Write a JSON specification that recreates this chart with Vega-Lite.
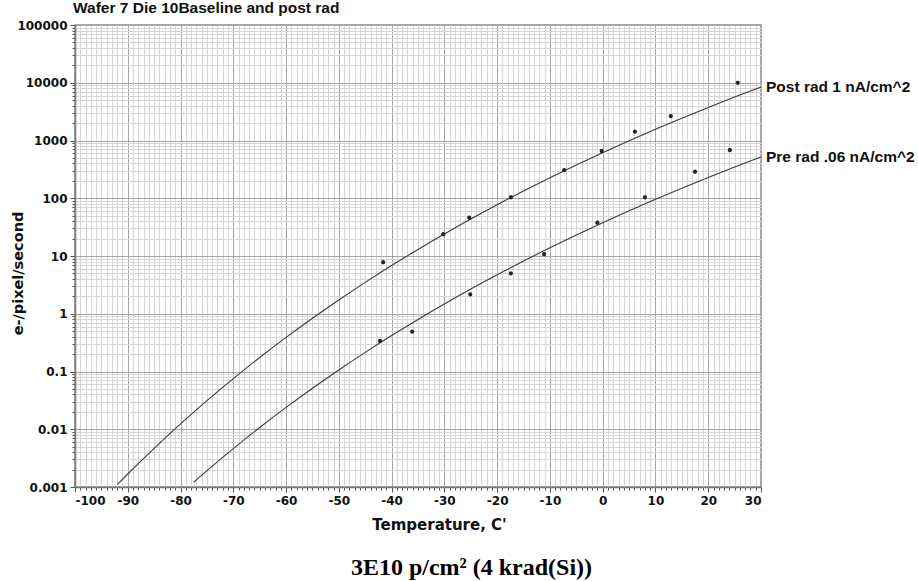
{
  "$schema": "https://vega.github.io/schema/vega-lite/v6.json",
  "width": 686,
  "height": 462,
  "autosize": {"type": "none"},
  "padding": {"left": 75, "top": 25, "right": 157, "bottom": 94},
  "background": "white",
  "config": {"view": {"stroke": "#8a8a8a", "strokeWidth": 1.5}, "font": "DejaVu Sans"},
  "title": {"text": "Wafer 7 Die 10Baseline and post rad", "anchor": "start", "frame": "group", "font": "Liberation Sans", "fontSize": 15.5, "fontWeight": "bold", "color": "#111", "offset": 3, "dx": -2},
  "datasets": {
    "curves": [
      {"series": "post", "T": -92, "v": 0.0011},
      {"series": "post", "T": -90, "v": 0.00168},
      {"series": "post", "T": -85, "v": 0.00468},
      {"series": "post", "T": -80, "v": 0.0124},
      {"series": "post", "T": -75, "v": 0.0313},
      {"series": "post", "T": -70, "v": 0.0754},
      {"series": "post", "T": -65, "v": 0.1745},
      {"series": "post", "T": -60, "v": 0.389},
      {"series": "post", "T": -55, "v": 0.835},
      {"series": "post", "T": -50, "v": 1.735},
      {"series": "post", "T": -45, "v": 3.49},
      {"series": "post", "T": -40, "v": 6.83},
      {"series": "post", "T": -35, "v": 13.0},
      {"series": "post", "T": -30, "v": 24.1},
      {"series": "post", "T": -25, "v": 43.6},
      {"series": "post", "T": -20, "v": 77.2},
      {"series": "post", "T": -15, "v": 133.6},
      {"series": "post", "T": -10, "v": 226.6},
      {"series": "post", "T": -5, "v": 377},
      {"series": "post", "T": 0, "v": 616},
      {"series": "post", "T": 5, "v": 990},
      {"series": "post", "T": 10, "v": 1565},
      {"series": "post", "T": 15, "v": 2436},
      {"series": "post", "T": 20, "v": 3736},
      {"series": "post", "T": 25, "v": 5650},
      {"series": "post", "T": 30, "v": 8440},
      {"series": "pre", "T": -77.5, "v": 0.00121},
      {"series": "pre", "T": -75, "v": 0.00192},
      {"series": "pre", "T": -70, "v": 0.00463},
      {"series": "pre", "T": -65, "v": 0.01071},
      {"series": "pre", "T": -60, "v": 0.02387},
      {"series": "pre", "T": -55, "v": 0.0513},
      {"series": "pre", "T": -50, "v": 0.1065},
      {"series": "pre", "T": -45, "v": 0.2145},
      {"series": "pre", "T": -40, "v": 0.4195},
      {"series": "pre", "T": -35, "v": 0.798},
      {"series": "pre", "T": -30, "v": 1.479},
      {"series": "pre", "T": -25, "v": 2.68},
      {"series": "pre", "T": -20, "v": 4.74},
      {"series": "pre", "T": -15, "v": 8.2},
      {"series": "pre", "T": -10, "v": 13.91},
      {"series": "pre", "T": -5, "v": 23.1},
      {"series": "pre", "T": 0, "v": 37.8},
      {"series": "pre", "T": 5, "v": 60.7},
      {"series": "pre", "T": 10, "v": 96.0},
      {"series": "pre", "T": 15, "v": 149.5},
      {"series": "pre", "T": 20, "v": 229},
      {"series": "pre", "T": 25, "v": 347},
      {"series": "pre", "T": 30, "v": 518}
    ],
    "points": [
      {"series": "post", "T": 25.6, "v": 10000},
      {"series": "post", "T": 12.9, "v": 2650},
      {"series": "post", "T": 6.1, "v": 1420},
      {"series": "post", "T": -0.2, "v": 658},
      {"series": "post", "T": -7.3, "v": 308},
      {"series": "post", "T": -17.4, "v": 104},
      {"series": "post", "T": -25.3, "v": 46},
      {"series": "post", "T": -30.2, "v": 24},
      {"series": "post", "T": -41.6, "v": 7.8},
      {"series": "pre", "T": 24.1, "v": 684},
      {"series": "pre", "T": 17.5, "v": 288},
      {"series": "pre", "T": 8.0, "v": 104},
      {"series": "pre", "T": -1.0, "v": 37.8},
      {"series": "pre", "T": -11.1, "v": 10.8},
      {"series": "pre", "T": -17.4, "v": 5.0},
      {"series": "pre", "T": -25.1, "v": 2.17},
      {"series": "pre", "T": -36.1, "v": 0.49},
      {"series": "pre", "T": -42.2, "v": 0.34}
    ],
    "labels": [
      {"label": "Post rad 1 nA/cm^2", "T": 30, "v": 8440},
      {"label": "Pre rad .06 nA/cm^2", "T": 30, "v": 518}
    ]
  },
  "layer": [
    {
      "data": {"name": "curves"},
      "mark": {"type": "line", "color": "#3a3a3a", "strokeWidth": 1.1, "interpolate": "monotone"},
      "encoding": {
        "x": {"field": "T", "type": "quantitative",
          "scale": {"domain": [-100, 30], "nice": false, "zero": false},
          "axis": {"orient": "bottom", "tickCount": 130, "grid": true, "gridColor": "#d6d6d6", "gridWidth": 1, "labels": false, "domain": false, "ticks": true, "tickSize": 3, "tickColor": "#555",
            "title": "3E10 p/cm² (4 krad(Si))", "titleFont": "Liberation Serif", "titleFontSize": 24, "titleFontWeight": "bold", "titleColor": "#000", "titleX": 396, "titleY": 87, "titleBaseline": "alphabetic", "titleAlign": "center"}},
        "y": {"field": "v", "type": "quantitative",
          "scale": {"type": "log", "domain": [0.001, 100000], "nice": false},
          "axis": {"orient": "left", "values": [0.002,0.003,0.004,0.005,0.006,0.007,0.008,0.009,0.02,0.03,0.04,0.05,0.06,0.07,0.08,0.09,0.2,0.3,0.4,0.5,0.6,0.7,0.8,0.9,2,3,4,5,6,7,8,9,20,30,40,50,60,70,80,90,200,300,400,500,600,700,800,900,2000,3000,4000,5000,6000,7000,8000,9000,20000,30000,40000,50000,60000,70000,80000,90000],
            "grid": true, "gridColor": "#d6d6d6", "labels": false, "domain": false, "tickSize": 3, "tickColor": "#555", "title": null}},
        "detail": {"field": "series"}
      }
    },
    {
      "data": {"name": "points"},
      "mark": {"type": "point", "shape": "M-1,0L1,0M0,-1L0,1M-0.7,-0.7L0.7,0.7M-0.7,0.7L0.7,-0.7", "size": 18, "filled": false, "strokeWidth": 1.2, "color": "#222", "opacity": 1},
      "encoding": {
        "x": {"field": "T", "type": "quantitative",
          "axis": {"orient": "bottom", "values": [-100,-90,-80,-70,-60,-50,-40,-30,-20,-10,0,10,20,30], "labelExpr": "'' + datum.value", "grid": true, "gridColor": "#a6a6a6", "domain": true, "domainColor": "#777", "domainWidth": 1.5, "tickSize": 5, "tickColor": "#555",
            "labelFont": "DejaVu Sans", "labelFontSize": 12, "labelFontWeight": "bold", "labelColor": "#111", "labelPadding": 3,
            "title": "Temperature, C'", "titleFont": "DejaVu Sans", "titleFontSize": 15, "titleFontWeight": "bold", "titleColor": "#111", "titleX": 364, "titleY": 42, "titleBaseline": "alphabetic", "titleAlign": "center"}},
        "y": {"field": "v", "type": "quantitative",
          "axis": {"orient": "left", "values": [0.001, 0.01, 0.1, 1, 10, 100, 1000, 10000, 100000], "labelExpr": "'' + datum.value", "grid": true, "gridColor": "#a6a6a6", "domain": true, "domainColor": "#777", "domainWidth": 1.5, "tickSize": 5, "tickColor": "#555",
            "labelFont": "DejaVu Sans", "labelFontSize": 12, "labelFontWeight": "bold", "labelColor": "#111", "labelPadding": 3,
            "title": "e-/pixel/second", "titleFont": "DejaVu Sans", "titleFontSize": 14.5, "titleFontWeight": "bold", "titleColor": "#111", "titleX": -57, "titleY": 248, "titleAngle": -90, "titleBaseline": "middle", "titleAlign": "center"}}
      }
    },
    {
      "data": {"name": "labels"},
      "mark": {"type": "text", "align": "left", "baseline": "middle", "dx": 5, "font": "Liberation Sans", "fontSize": 15.5, "fontWeight": "bold", "color": "#111"},
      "encoding": {
        "x": {"field": "T", "type": "quantitative", "axis": null},
        "y": {"field": "v", "type": "quantitative", "axis": null},
        "text": {"field": "label"}
      }
    }
  ],
  "resolve": {"axis": {"x": "independent", "y": "independent"}}
}
